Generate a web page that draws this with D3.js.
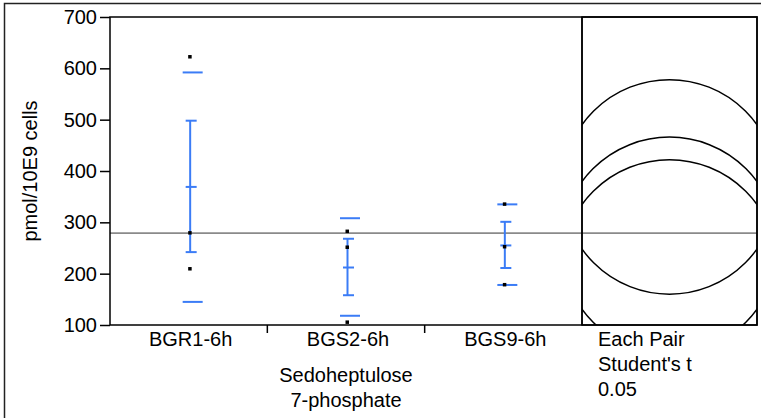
<!DOCTYPE html>
<html><head><meta charset="utf-8">
<script src="https://cdn.jsdelivr.net/npm/d3@7"></script>
<style>
html,body{margin:0;padding:0;background:#fff;}
svg{display:block;font-family:"Liberation Sans",Arial,sans-serif;}
</style></head>
<body>
<svg id="chart" width="761" height="418"></svg>
<script>
const categories = ["BGR1-6h", "BGS2-6h", "BGS9-6h"];
const points = [[623, 280, 210], [283, 252, 106], [336, 253, 179]];
const means = [369, 212, 255];
const seLow = [242, 158, 211];
const seHigh = [498, 268, 301];
const sdLow = [145, 118, 178];
const sdHigh = [592, 308, 335];
const grandMean = 279;
const circleRadius = [209, 210, 211];
const yTicks = [100, 200, 300, 400, 500, 600, 700];
const yTitle = "pmol/10E9 cells";
const xTitle = ["Sedoheptulose", "7-phosphate"];
const testLabel = ["Each Pair", "Student's t", "0.05"];

const svg = d3.select("#chart");
const L = 110, R = 582, T = 17, B = 325, PR = 757;
const blue = "#3b7cf6";
const FS = 20;

svg.append("rect").attr("x", 4.5).attr("y", 3.5).attr("width", 900).attr("height", 600)
  .attr("fill", "none").attr("stroke", "#222").attr("stroke-width", 1.5);

const y = d3.scaleLinear().domain([100, 700]).range([B, T]);
const x = d3.scaleBand().domain(categories).range([L, R]);

// grand mean line
svg.append("line").attr("x1", L).attr("x2", PR).attr("y1", y(grandMean)).attr("y2", y(grandMean))
  .attr("stroke", "#8a8a8a").attr("stroke-width", 1.6);

// y axis
const yAxis = svg.append("g").attr("transform", `translate(${L},0)`)
  .call(d3.axisLeft(y).tickValues(yTicks).tickSize(10).tickPadding(3).tickSizeOuter(0));
yAxis.select(".domain").remove();
yAxis.selectAll("line").attr("stroke", "#000").attr("stroke-width", 1.5);
yAxis.selectAll("text").attr("font-size", FS).attr("fill", "#000").attr("font-family", "Liberation Sans, Arial, sans-serif");

// x axis ticks at category boundaries
const xb = svg.append("g");
categories.slice(1).forEach(c => {
  xb.append("line").attr("x1", x(c)).attr("x2", x(c)).attr("y1", B).attr("y2", B + 8)
    .attr("stroke", "#000").attr("stroke-width", 1.5);
});
categories.forEach(c => {
  xb.append("text").attr("x", x(c) + x.bandwidth() / 2 + 2).attr("y", B + 21)
    .attr("text-anchor", "middle").attr("font-size", FS).text(c);
});

// plot frame
svg.append("rect").attr("x", L).attr("y", T).attr("width", PR - L).attr("height", B - T)
  .attr("fill", "none").attr("stroke", "#000").attr("stroke-width", 1.5);
svg.append("line").attr("x1", R).attr("x2", R).attr("y1", T).attr("y2", B)
  .attr("stroke", "#000").attr("stroke-width", 1.5);

// error bars and sd lines
categories.forEach((c, i) => {
  const cx = x(c) + x.bandwidth() / 2 + 1;
  const g = svg.append("g").attr("stroke", blue).attr("stroke-width", 2);
  g.append("line").attr("x1", cx + 0.5).attr("x2", cx + 0.5).attr("y1", y(seLow[i])).attr("y2", y(seHigh[i]));
  [seLow[i], seHigh[i], means[i]].forEach(v => {
    g.append("line").attr("x1", cx - 4).attr("x2", cx + 7).attr("y1", y(v)).attr("y2", y(v));
  });
  [sdLow[i], sdHigh[i]].forEach(v => {
    g.append("line").attr("x1", cx - 7).attr("x2", cx + 13).attr("y1", y(v)).attr("y2", y(v));
  });
  points[i].forEach(v => {
    svg.append("rect").attr("x", cx - 1.5).attr("y", y(v) - 1.5).attr("width", 3.5).attr("height", 3.5).attr("fill", "#000");
  });
});

// comparison circles
svg.append("clipPath").attr("id", "clipc").append("rect")
  .attr("x", R).attr("y", T).attr("width", PR - R).attr("height", B - T);
const cg = svg.append("g").attr("clip-path", "url(#clipc)");
means.forEach((m, i) => {
  cg.append("circle").attr("cx", (R + PR) / 2).attr("cy", y(m))
    .attr("r", y(m - circleRadius[i]) - y(m))
    .attr("fill", "none").attr("stroke", "#000").attr("stroke-width", 1.5);
});
svg.append("rect").attr("x", R).attr("y", T).attr("width", PR - R).attr("height", B - T)
  .attr("fill", "none").attr("stroke", "#000").attr("stroke-width", 1.5);

// y title
svg.append("text").attr("transform", `translate(37,${(T + B) / 2 + 0}) rotate(-90)`)
  .attr("text-anchor", "middle").attr("font-size", FS).text(yTitle);

// x title
xTitle.forEach((t, k) => {
  svg.append("text").attr("x", x(categories[1]) + x.bandwidth() / 2).attr("y", 382 + k * 25)
    .attr("text-anchor", "middle").attr("font-size", FS).text(t);
});

// test label
testLabel.forEach((t, k) => {
  svg.append("text").attr("x", 598).attr("y", 346 + k * 25)
    .attr("font-size", FS).text(t);
});
</script>
</body></html>
